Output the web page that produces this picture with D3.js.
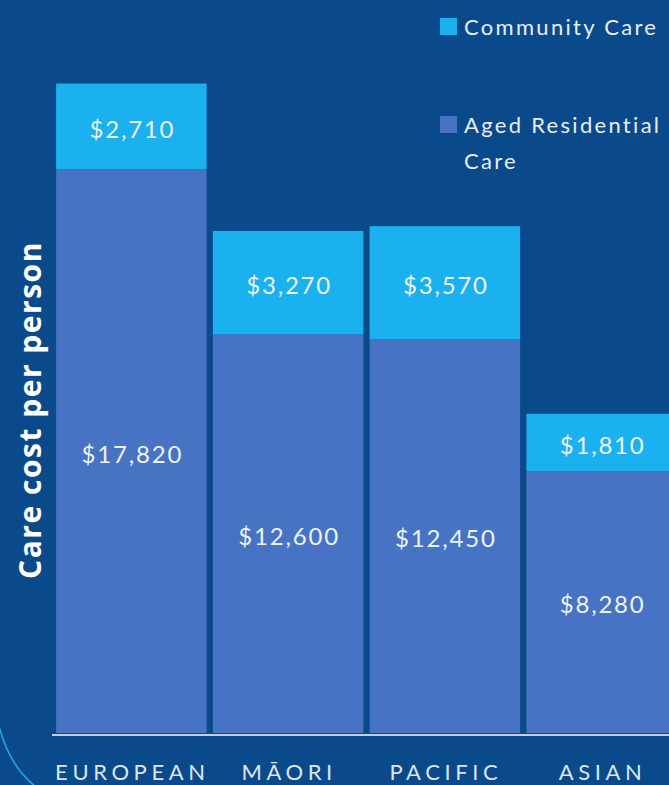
<!DOCTYPE html>
<html>
<head>
<meta charset="utf-8">
<script src="https://cdn.jsdelivr.net/npm/d3@7"></script>
<style>
  html, body { margin: 0; padding: 0; background: #0b4a8a; }
  svg { display: block; }
</style>
</head>
<body>
<script>
'use strict';

// chart values
const categories = ["EUROPEAN", "MĀORI", "PACIFIC", "ASIAN"];
const agedCare = [17820, 12600, 12450, 8280];
const communityCare = [2710, 3270, 3570, 1810];
const seriesKeys = ["aged", "community"];

const W = 669, H = 785;
const bg = "#0b4a8a";
const colors = { aged: "#4673c3", community: "#1bb0ee" };

const svg = d3.select("body").append("svg")
  .attr("width", W)
  .attr("height", H);

svg.append("rect").attr("width", W).attr("height", H).attr("fill", bg);

// decorative arc in the corner
svg.append("path")
  .attr("d", "M -2 722 Q 8 765 36 787")
  .attr("fill", "none")
  .attr("stroke", "#1fa6e0")
  .attr("stroke-width", 1.6);

// build table for the stack
let rows = categories.map((c, i) => ({ cat: c, aged: agedCare[i], community: communityCare[i] }));
let stacked = d3.stack().keys(seriesKeys)(rows);

let x = d3.scaleBand()
  .domain(categories)
  .range([53, 680])
  .paddingInner(0.04)
  .paddingOuter(0.02);

let y = d3.scaleLinear()
  .domain([0, 22000])
  .range([733, 37]);

// bars
let groups = svg.selectAll(".series")
  .data(stacked)
  .enter()
  .append("g")
    .attr("class", "series")
    .attr("fill", (d) => colors[d.key]);

groups.selectAll("rect")
  .data((d) => d)
  .enter()
  .append("rect")
    .attr("x", (d) => x(d.data.cat))
    .attr("y", (d) => y(d[1]))
    .attr("width", x.bandwidth())
    .attr("height", (d) => y(d[0]) - y(d[1]));

// value labels in the middle of each segment
let fmt = d3.format(",");
groups.selectAll("text")
  .data((d) => d)
  .enter()
  .append("text")
    .attr("x", (d) => x(d.data.cat) + x.bandwidth() / 2 + 1)
    .attr("y", (d) => (y(d[0]) + y(d[1])) / 2 + 3)
    .attr("dy", "0.35em")
    .attr("text-anchor", "middle")
    .attr("fill", "#eef3fa")
    .style("font-family", "Lato, 'Open Sans', sans-serif")
    .style("font-size", "24px")
    .style("letter-spacing", "1.8px")
    .text((d) => "$" + fmt(d[1] - d[0]));

// x axis line
svg.append("line")
  .attr("x1", 52).attr("x2", W)
  .attr("y1", 735).attr("y2", 735)
  .attr("stroke", "#c9ced6")
  .attr("stroke-width", 2);

// category labels
svg.selectAll(".cat")
  .data(categories)
  .enter()
  .append("text")
    .attr("class", "cat")
    .attr("x", (d) => x(d) + x.bandwidth() / 2 + 1)
    .attr("y", 780)
    .attr("text-anchor", "middle")
    .attr("fill", "#dde5ef")
    .style("font-family", "Lato, 'Open Sans', sans-serif")
    .style("font-size", "22px")
    .style("letter-spacing", "4.6px")
    .text((d) => d);

// y axis title
svg.append("text")
  .attr("transform", "translate(41, 410)rotate(-90)")
  .attr("text-anchor", "middle")
  .attr("fill", "#ffffff")
  .style("font-family", "'Open Sans', sans-serif")
  .style("font-weight", "bold")
  .style("font-size", "30px")
  .style("letter-spacing", "1.5px")
  .text("Care cost per person");

// legend
let legend = [
  { key: "community", lines: ["Community Care"], y: 18 },
  { key: "aged", lines: ["Aged Residential", "Care"], y: 116 }
];
legend.forEach((l) => {
  svg.append("rect")
    .attr("x", 440).attr("y", l.y)
    .attr("width", 17).attr("height", 17)
    .attr("fill", colors[l.key]);
  l.lines.forEach((t, i) => {
    svg.append("text")
      .attr("x", 464)
      .attr("y", l.y + 17 + i * 36)
      .attr("fill", "#e8eef7")
      .style("font-family", "Lato, 'Open Sans', sans-serif")
      .style("font-size", "22px")
      .style("letter-spacing", "2.3px")
      .text(t);
  });
});
</script>
</body>
</html>
